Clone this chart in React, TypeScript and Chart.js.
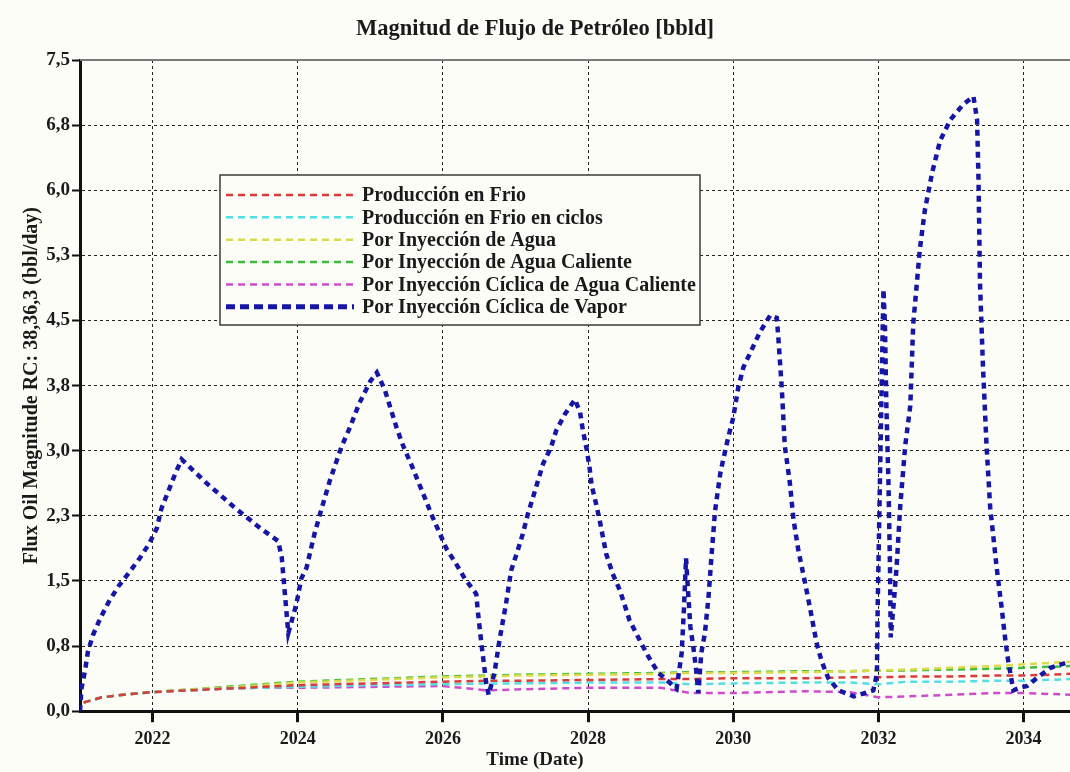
import React, { useEffect, useRef } from "react";
import { Chart, registerables } from "chart.js";

Chart.register(...registerables);

// ---------- text ----------
const TITLE = "Magnitud de Flujo de Petróleo [bbld]";
const X_TITLE = "Time (Date)";
const Y_TITLE = "Flux Oil Magnitude RC: 38,36,3 (bbl/day)";

// ---------- axes ----------
const X_MIN = 2021.0;
const X_MAX = 2034.64;
const X_TICKS = [2022, 2024, 2026, 2028, 2030, 2032, 2034];
const Y_TICKS = [0, 0.75, 1.5, 2.25, 3, 3.75, 4.5, 5.25, 6, 6.75, 7.5];

// ---------- series labels ----------
const LABELS = [
  "Producción en Frio",
  "Producción en Frio en ciclos",
  "Por Inyección de Agua",
  "Por Inyección de Agua Caliente",
  "Por Inyección Cíclica de Agua Caliente",
  "Por Inyección Cíclica de Vapor",
];

// ---------- low-rate series (shared time axis) ----------
const THIN_YEARS = [
  2021.05, 2021.3, 2021.6, 2022.0, 2022.5, 2023.0, 2023.5, 2024.0, 2025.0, 2026.0, 2026.6, 2027.0,
  2028.0, 2029.0, 2029.4, 2030.0, 2031.0, 2031.6, 2032.0, 2032.4, 2033.0, 2033.6, 2034.0, 2034.64,
];
const FRIO = [
  0.1, 0.16, 0.19, 0.22, 0.24, 0.26, 0.28, 0.3, 0.32, 0.34, 0.35, 0.35,
  0.36, 0.37, 0.37, 0.38, 0.38, 0.39, 0.39, 0.4, 0.4, 0.41, 0.41, 0.43,
];
const FRIO_CICLOS = [
  0.1, 0.16, 0.19, 0.22, 0.24, 0.26, 0.27, 0.28, 0.3, 0.31, 0.32, 0.32,
  0.33, 0.33, 0.31, 0.32, 0.33, 0.33, 0.31, 0.34, 0.34, 0.35, 0.35, 0.37,
];
const AGUA = [
  0.1, 0.16, 0.19, 0.22, 0.25, 0.27, 0.3, 0.33, 0.36, 0.39, 0.4, 0.41,
  0.42, 0.43, 0.44, 0.44, 0.45, 0.46, 0.47, 0.48, 0.5, 0.52, 0.54, 0.57,
];
const AGUA_CALIENTE = [
  0.1, 0.16, 0.19, 0.22, 0.25, 0.28, 0.31, 0.34, 0.37, 0.4, 0.41, 0.42,
  0.43, 0.44, 0.45, 0.45, 0.46, 0.46, 0.47, 0.47, 0.48, 0.49, 0.5, 0.52,
];
const CICLICA_AGUA_CALIENTE = [
  0.1, 0.16, 0.19, 0.22, 0.24, 0.26, 0.27, 0.27, 0.28, 0.29, 0.24, 0.25,
  0.27, 0.27, 0.21, 0.21, 0.23, 0.22, 0.16, 0.17, 0.19, 0.21, 0.21, 0.19,
];

// ---------- cyclic steam injection ----------
const VAPOR_YEARS = [
  2021.0, 2021.02, 2021.07, 2021.11, 2021.18, 2021.28, 2021.39, 2021.53, 2021.67, 2021.83, 2021.96,
  2022.06, 2022.12, 2022.22, 2022.31, 2022.4, 2022.74, 2023.11, 2023.48, 2023.73, 2023.78, 2023.82,
  2023.87, 2023.92, 2023.98, 2024.05, 2024.12, 2024.23, 2024.3, 2024.44, 2024.6, 2024.72, 2024.85,
  2025.0, 2025.09, 2025.2, 2025.36, 2025.45, 2025.56, 2025.75, 2025.84, 2025.95, 2026.05, 2026.18,
  2026.3, 2026.46, 2026.48, 2026.53, 2026.57, 2026.6, 2026.63, 2026.71, 2026.78, 2026.87, 2026.94,
  2027.03, 2027.1, 2027.17, 2027.24, 2027.38, 2027.49, 2027.56, 2027.68, 2027.82, 2027.89, 2027.93,
  2027.98, 2028.02, 2028.05, 2028.11, 2028.16, 2028.25, 2028.34, 2028.44, 2028.57, 2028.71, 2028.83,
  2028.97, 2029.08, 2029.22, 2029.29, 2029.32, 2029.35, 2029.38, 2029.41, 2029.45, 2029.49, 2029.52,
  2029.56, 2029.61, 2029.66, 2029.7, 2029.75, 2029.82, 2029.86, 2029.93, 2030.0, 2030.07, 2030.14,
  2030.37, 2030.51, 2030.6, 2030.62, 2030.67, 2030.71, 2030.78, 2030.83, 2030.9, 2030.97, 2031.06,
  2031.15, 2031.22, 2031.31, 2031.45, 2031.66, 2031.93, 2031.98, 2031.99, 2032.02, 2032.05, 2032.07,
  2032.09, 2032.11, 2032.14, 2032.16, 2032.17, 2032.21, 2032.25, 2032.3, 2032.37, 2032.44, 2032.48,
  2032.53, 2032.57, 2032.64, 2032.74, 2032.85, 2032.99, 2033.17, 2033.31, 2033.36, 2033.38, 2033.4,
  2033.44, 2033.49, 2033.54, 2033.63, 2033.7, 2033.75, 2033.79, 2033.86, 2033.95, 2034.05, 2034.18,
  2034.37, 2034.64,
];
const VAPOR = [
  0.0, 0.26, 0.47, 0.69, 0.88, 1.07, 1.25, 1.44, 1.59, 1.77, 1.94,
  2.11, 2.33, 2.54, 2.73, 2.9, 2.63, 2.36, 2.11, 1.96, 1.77, 1.38,
  0.9, 1.05, 1.23, 1.53, 1.65, 2.04, 2.25, 2.65, 3.04, 3.27, 3.55,
  3.8, 3.9, 3.7, 3.27, 3.06, 2.85, 2.46, 2.27, 2.06, 1.87, 1.7,
  1.53, 1.35, 1.16, 0.78, 0.51, 0.3, 0.19, 0.44, 0.82, 1.24, 1.62,
  1.85, 2.04, 2.27, 2.46, 2.85, 3.04, 3.23, 3.42, 3.59, 3.44, 3.23,
  3.02, 2.81, 2.6, 2.39, 2.2, 1.81, 1.58, 1.39, 1.05, 0.82, 0.63,
  0.44, 0.36, 0.26, 0.67, 1.16, 1.76, 1.35, 0.97, 0.74, 0.47, 0.21,
  0.67, 0.9, 1.32, 1.78, 2.31, 2.73, 2.89, 3.15, 3.38, 3.73, 3.96,
  4.37, 4.56, 4.53, 4.32, 3.71, 3.06, 2.63, 2.21, 1.84, 1.56, 1.18,
  0.78, 0.57, 0.38, 0.24, 0.17, 0.24, 0.43, 1.18, 2.59, 3.99, 4.86,
  4.46, 3.52, 2.59, 1.65, 0.85, 1.23, 1.65, 2.35, 3.06, 3.52, 4.46,
  4.93, 5.31, 5.77, 6.2, 6.57, 6.81, 6.99, 7.08, 6.81, 6.1, 4.93,
  3.99, 3.06, 2.35, 1.65, 1.18, 0.81, 0.57, 0.24, 0.27, 0.29, 0.38,
  0.5, 0.57,
];

const COLORS = ["#d83c3c", "#55dde3", "#dada4c", "#3cbc3c", "#cc4ccc", "#1616a6"];
const BG = "#fdfdf7";
const SERIF = '"Liberation Serif", "Times New Roman", serif';

const pts = (xs: number[], ys: number[]) => xs.map((x, i) => ({ x, y: ys[i] }));

const bgPlugin = {
  id: "bg",
  beforeDraw(chart: any) {
    const { ctx, width, height } = chart;
    ctx.save();
    ctx.fillStyle = BG;
    ctx.fillRect(0, 0, width, height);
    ctx.restore();
  },
};

const frameTopPlugin = {
  id: "frameTop",
  beforeDatasetsDraw(chart: any) {
    const { ctx, chartArea } = chart;
    ctx.save();
    ctx.strokeStyle = "#7a7a7a";
    ctx.lineWidth = 2;
    ctx.beginPath();
    ctx.moveTo(chartArea.left, chartArea.top);
    ctx.lineTo(chartArea.right, chartArea.top);
    ctx.stroke();
    ctx.restore();
  },
};

const boxLegendPlugin = {
  id: "boxLegend",
  afterDatasetsDraw(chart: any) {
    const { ctx, chartArea } = chart;
    const x0 = chartArea.left + 140;
    const y0 = chartArea.top + 115;
    const w = 480;
    const h = 150;
    ctx.save();
    ctx.fillStyle = BG;
    ctx.fillRect(x0, y0, w, h);
    ctx.strokeStyle = "#3a3a3a";
    ctx.lineWidth = 1.5;
    ctx.strokeRect(x0, y0, w, h);
    ctx.font = `bold 20px ${SERIF}`;
    ctx.textBaseline = "middle";
    ctx.textAlign = "left";
    chart.data.datasets.forEach((ds: any, i: number) => {
      const y = y0 + 20 + i * 22.35;
      ctx.save();
      ctx.strokeStyle = ds.borderColor;
      ctx.lineWidth = i === 5 ? 5 : 2.5;
      ctx.setLineDash(i === 5 ? [9, 5] : [7, 5]);
      ctx.beginPath();
      ctx.moveTo(x0 + 6, y);
      ctx.lineTo(x0 + 134, y);
      ctx.stroke();
      ctx.restore();
      ctx.fillStyle = "#1a1a1a";
      ctx.fillText(ds.label, x0 + 142, y + 1);
    });
    ctx.restore();
  },
};

export default function App() {
  const ref = useRef<HTMLCanvasElement | null>(null);

  useEffect(() => {
    document.body.style.margin = "0";
    document.body.style.background = BG;
    if (!ref.current) return;
    const thin = [FRIO, FRIO_CICLOS, AGUA, AGUA_CALIENTE, CICLICA_AGUA_CALIENTE];
    const datasets: any[] = thin.map((vals, i) => ({
      label: LABELS[i],
      data: pts(THIN_YEARS, vals),
      borderColor: COLORS[i],
      backgroundColor: COLORS[i],
      borderWidth: 2.5,
      borderDash: [7, 5],
      pointRadius: 0,
      tension: 0,
      fill: false,
      order: 1,
    }));
    datasets.push({
      label: LABELS[5],
      data: pts(VAPOR_YEARS, VAPOR),
      borderColor: COLORS[5],
      backgroundColor: COLORS[5],
      borderWidth: 4.5,
      borderDash: [6, 5],
      pointRadius: 0,
      tension: 0,
      fill: false,
      order: 0,
    });

    const chart = new Chart(ref.current, {
      type: "line",
      data: { datasets },
      options: {
        responsive: false,
        animation: false,
        devicePixelRatio: 1,
        layout: { padding: 0 },
        plugins: {
          legend: { display: false },
          tooltip: { enabled: false },
          title: {
            display: true,
            text: TITLE,
            color: "#1a1a1a",
            font: { family: SERIF, size: 22.5, weight: "bold" },
            padding: { top: 16, bottom: 17 },
          },
          subtitle: {
            display: true,
            position: "bottom",
            text: X_TITLE,
            color: "#1a1a1a",
            font: { family: SERIF, size: 19, weight: "bold" },
            padding: { top: 0, bottom: 1 },
          },
        },
        scales: {
          x: {
            type: "linear",
            min: X_MIN,
            max: X_MAX,
            afterBuildTicks: (s: any) => {
              s.ticks = X_TICKS.map((v) => ({ value: v }));
            },
            afterFit: (s: any) => {
              s.height = 37;
            },
            ticks: {
              color: "#1a1a1a",
              font: { family: SERIF, size: 18, weight: "bold" },
              padding: 6,
              maxRotation: 0,
              autoSkip: false,
              callback: (v: any) => String(v),
            },
            grid: {
              color: "#222",
              lineWidth: 1,
              drawTicks: true,
              tickLength: 11,
              tickWidth: 3,
              tickColor: "#111",
              tickBorderDash: [],
            },
            border: { display: true, color: "#111", width: 3, dash: [3, 3] },
          },
          y: {
            type: "linear",
            min: 0,
            max: 7.5,
            afterBuildTicks: (s: any) => {
              s.ticks = Y_TICKS.map((v) => ({ value: v }));
            },
            afterFit: (s: any) => {
              s.width = 80;
            },
            ticks: {
              color: "#1a1a1a",
              font: { family: SERIF, size: 19, weight: "bold" },
              padding: 2,
              autoSkip: false,
              callback: (v: any) => Number(v).toFixed(1).replace(".", ","),
            },
            grid: {
              color: "#222",
              lineWidth: 1,
              drawTicks: true,
              tickLength: 8,
              tickWidth: 2,
              tickColor: "#111",
              tickBorderDash: [],
            },
            border: { display: true, color: "#111", width: 3, dash: [3, 3] },
            title: {
              display: true,
              text: Y_TITLE,
              color: "#1a1a1a",
              font: { family: SERIF, size: 20, weight: "bold" },
              padding: { top: 20, bottom: 0 },
            },
          },
        },
      },
      plugins: [bgPlugin, frameTopPlugin, boxLegendPlugin],
    } as any);
    return () => chart.destroy();
  }, []);

  return (
    <div style={{ width: 1070, height: 772, background: BG }}>
      <canvas ref={ref} width={1070} height={772} style={{ display: "block" }} />
    </div>
  );
}
